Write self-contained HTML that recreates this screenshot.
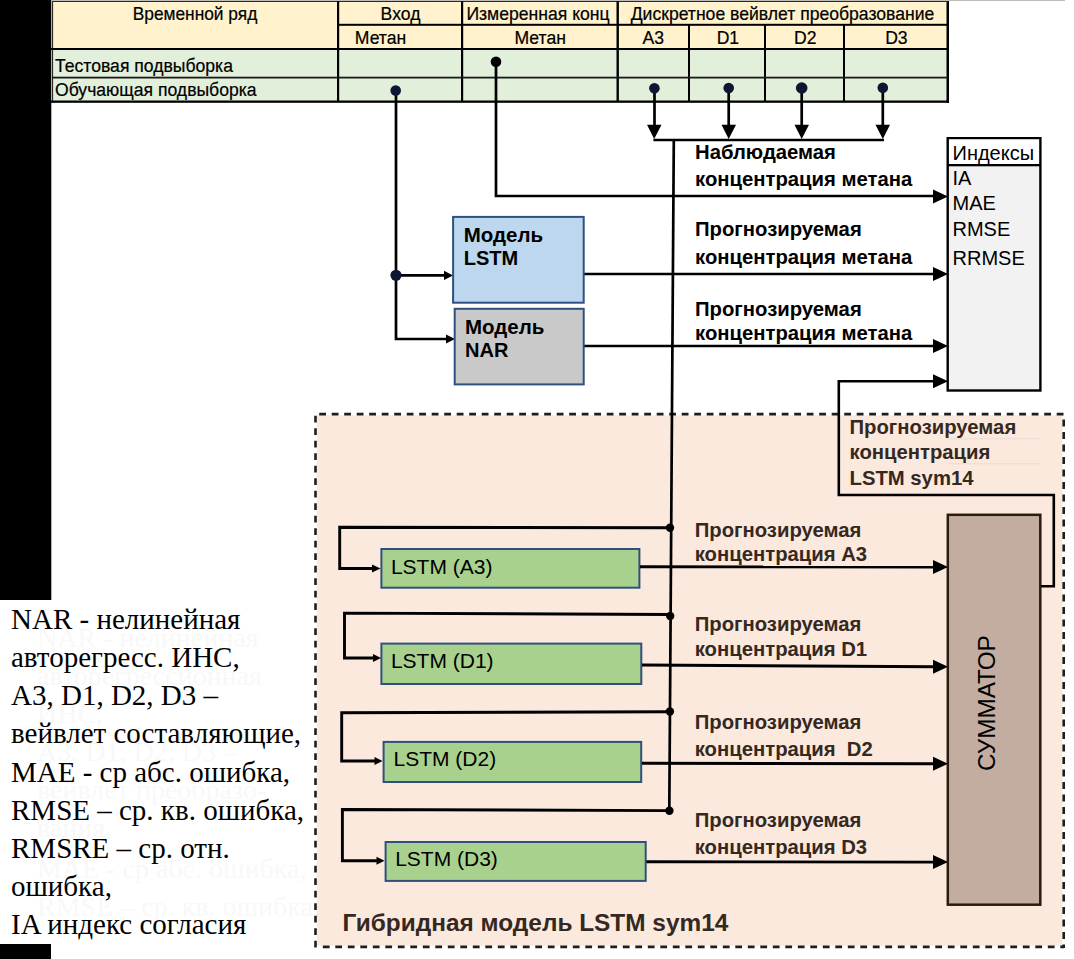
<!DOCTYPE html>
<html><head><meta charset="utf-8">
<style>
html,body{margin:0;padding:0;background:#fff;width:1074px;height:959px;overflow:hidden}
svg{display:block;position:absolute;left:0;top:0}
text{font-family:"Liberation Sans",sans-serif}
.t{font-size:17.6px;fill:#000;stroke:#000;stroke-width:0.2px}
.b{font-size:20.3px;font-weight:bold;fill:#000}
.br{font-size:20.3px;font-weight:bold;fill:#35281f}
.s{font-family:"Liberation Serif",serif;font-size:29px;fill:#000}
.sg text{font-family:"Liberation Serif",serif;font-size:28px;fill:#000;opacity:.025}
</style></head><body>
<svg width="1074" height="959" viewBox="0 0 1074 959">
<!-- black columns -->
<rect x="0" y="0" width="51" height="600" fill="#000"/>
<rect x="0" y="944" width="51" height="15" fill="#000"/>
<!-- top faint line -->
<rect x="51" y="0" width="1014" height="1" fill="#bdbdbd"/>
<rect x="51" y="0" width="1" height="600" fill="#b0b0a8"/>

<!-- TABLE -->
<rect x="52" y="1" width="896" height="48" fill="#fff2cc"/>
<rect x="52" y="49" width="896" height="53" fill="#e2efda"/>
<g fill="#000">
  <rect x="52" y="1" width="1.1" height="101.5" fill="#2a2a22"/>
  <rect x="946.5" y="1" width="2.5" height="102"/>
  <rect x="52" y="1" width="896" height="1" fill="#2a2a22"/>
  <rect x="337" y="1" width="2.2" height="101"/>
  <rect x="461" y="1" width="2.2" height="101"/>
  <rect x="616.5" y="1" width="2.4" height="101"/>
  <rect x="688" y="24" width="2" height="78"/>
  <rect x="764" y="24" width="2" height="78"/>
  <rect x="843" y="24" width="2" height="78"/>
  <rect x="338" y="23.8" width="610" height="2"/>
  <rect x="51" y="48" width="897" height="2"/>
  <rect x="52" y="76.7" width="896" height="1.8" fill="#1a1a1a"/>
  <rect x="51" y="100.5" width="897" height="2.3"/>
</g>
<text class="t" transform="translate(195,20) scale(0.985,1.05)" text-anchor="middle">Временной ряд</text>
<text class="t" transform="translate(400.5,20) scale(1,1.05)" text-anchor="middle">Вход</text>
<text class="t" transform="translate(380.5,43.5) scale(1,1.05)" text-anchor="middle">Метан</text>
<text class="t" transform="translate(538,19.5) scale(1,1.05)" text-anchor="middle">Измеренная конц</text>
<text class="t" transform="translate(540.2,43.5) scale(1,1.05)" text-anchor="middle">Метан</text>
<text class="t" transform="translate(782.5,20) scale(1,1.05)" text-anchor="middle">Дискретное вейвлет преобразование</text>
<text class="t" transform="translate(653.2,43.5) scale(1,1.05)" text-anchor="middle">A3</text>
<text class="t" transform="translate(727.9,43.5) scale(1,1.05)" text-anchor="middle">D1</text>
<text class="t" transform="translate(805.2,43.5) scale(1,1.05)" text-anchor="middle">D2</text>
<text class="t" transform="translate(896.4,43.5) scale(1,1.05)" text-anchor="middle">D3</text>
<text class="t" transform="translate(55,72) scale(1,1.05)">Тестовая подвыборка</text>
<text class="t" transform="translate(55,95.5) scale(1,1.05)">Обучающая подвыборка</text>

<!-- dashed hybrid region -->
<rect x="316.8" y="415.3" width="745.7" height="530.4" fill="#fce9dd"/>
<g stroke="#1e1e1e" stroke-width="2.6" fill="none" stroke-dasharray="6.8 5.7">
<line x1="319.2" y1="414.1" x2="1064" y2="414.1"/>
<line x1="1063.7" y1="419.6" x2="1063.7" y2="948"/>
<line x1="322.8" y1="946.9" x2="1064" y2="946.9"/>
<line x1="315.5" y1="415.8" x2="315.5" y2="948"/>
</g>
<rect x="947.5" y="438.3" width="93" height="1" fill="#e8dcd2"/>
<rect x="947.5" y="463.3" width="93" height="1" fill="#e8dcd2"/>
<!-- summator -->
<rect x="947.8" y="514.8" width="92.5" height="389.9" fill="#c3ada0" stroke="#2b1b10" stroke-width="2.5"/>
<text x="0" y="0" transform="translate(994.6,771) rotate(-90)" style="font-size:24.3px" fill="#000">СУММАТОР</text>
<!-- LSTM component boxes -->
<g fill="#a9d18e" stroke="#2f507c" stroke-width="2">
<rect x="381.4" y="549" width="258" height="38.7"/>
<rect x="381.4" y="643.6" width="259.9" height="40.4"/>
<rect x="383.6" y="741.9" width="257.6" height="40.1"/>
<rect x="385.6" y="842" width="260.1" height="38.9"/>
</g>
<g style="font-size:21px" fill="#000">
<text x="390.9" y="574">LSTM (A3)</text>
<text x="390.9" y="668">LSTM (D1)</text>
<text x="393.5" y="766.4">LSTM (D2)</text>
<text x="395.2" y="866.2">LSTM (D3)</text>
</g>
<text class="br" x="342.6" y="930.5" style="font-size:24.4px">Гибридная модель LSTM sym14</text>
<text class="br" x="849.5" y="433.8">Прогнозируемая</text>
<text class="br" x="849.5" y="459.3">концентрация</text>
<text class="br" x="849.5" y="485">LSTM sym14</text>
<text class="br" x="694.7" y="537.3">Прогнозируемая</text>
<text class="br" x="694.7" y="561.2">концентрация A3</text>
<text class="br" x="694.7" y="630.8">Прогнозируемая</text>
<text class="br" x="694.7" y="655.9">концентрация D1</text>
<text class="br" x="694.7" y="729">Прогнозируемая</text>
<text class="br" x="694.7" y="756" xml:space="preserve">концентрация  D2</text>
<text class="br" x="694.7" y="827.4">Прогнозируемая</text>
<text class="br" x="694.7" y="854.4">концентрация D3</text>

<!-- faint ghost text -->
<g class="sg">
<text x="37" y="647">NAR - нелинейная</text>
<text x="37" y="685">авторегрессионная</text>
<text x="37" y="723">ИНС,</text>
<text x="37" y="761">A3, D1, D2, D3 –</text>
<text x="37" y="799">вейвлет преобразо-</text>
<text x="37" y="837">вания,</text>
<text x="37" y="878">MAE - ср абс. ошибка,</text>
<text x="37" y="916">RMSE – ср. кв. ошибка,</text>
</g>
<!-- notes -->
<g class="s">
<text class="s" x="11" y="629">NAR - нелинейная</text>
<text class="s" x="11" y="667">авторегресс. ИНС,</text>
<text class="s" x="11" y="705">A3, D1, D2, D3 –</text>
<text class="s" x="11" y="743">вейвлет составляющие,</text>
<text class="s" x="11" y="782">MAE - ср абс. ошибка,</text>
<text class="s" x="11" y="819.6">RMSE – ср. кв. ошибка,</text>
<text class="s" x="11" y="858">RMSRE – ср. отн.</text>
<text class="s" x="11" y="895.6">ошибка,</text>
<text class="s" x="11" y="934.3">IA индекс согласия</text>
</g>

<!-- lines -->
<g stroke="#000" stroke-width="2.7" fill="none">
  <!-- Vhod -->
  <polyline points="396,90 396,339 447,339"/>
  <line x1="396" y1="275.4" x2="445" y2="275.4"/>
  <!-- Izmer -->
  <polyline points="496,62 496,196 935,196"/>
  <!-- wavelet arrows -->
  <line x1="654.5" y1="88" x2="654.5" y2="126"/>
  <line x1="728.7" y1="88" x2="728.7" y2="126"/>
  <line x1="801.7" y1="88" x2="801.7" y2="126"/>
  <line x1="882.8" y1="88" x2="882.8" y2="126"/>
  <line x1="653.4" y1="140" x2="884" y2="140"/>
  <line x1="673.8" y1="140" x2="669.3" y2="810.6"/>
  <!-- model outputs -->
  <line x1="584" y1="274" x2="935" y2="274"/>
  <line x1="584" y1="346" x2="935" y2="346"/>
</g>
<g stroke="#000" stroke-width="2.9" fill="none">
  <!-- feedback from summator -->
  <polyline points="671.3,527.7 339.7,527.3 339.7,568.5 373,568.5"/>
  <polyline points="670.6,614.5 344.5,613.1 344.5,658 374,658"/>
  <polyline points="669.9,711.8 341.7,712.7 341.7,761 375.5,761"/>
  <polyline points="669.3,810.6 342.4,809.5 342.4,860.7 377.5,860.7"/>
  <line x1="640" y1="566.8" x2="935" y2="567"/>
  <line x1="642" y1="665" x2="935" y2="666.7"/>
  <line x1="642" y1="763.3" x2="935" y2="763.8"/>
  <line x1="646.4" y1="861.7" x2="935" y2="862.1"/>
</g>
<g stroke="#000" stroke-width="2.6" fill="none">
  <polyline points="1041,586.3 1053.8,586.3 1053.8,495 838.8,495 838.8,381.3 935,381.3"/>
</g>
<g fill="#000">
  <!-- dots in table -->
  <circle cx="395.7" cy="90.6" r="5.3" fill="#0b1733"/>
  <circle cx="496" cy="61.7" r="5.3"/>
  <circle cx="654.4" cy="88.3" r="5.3" fill="#0b1733"/>
  <circle cx="728.7" cy="88" r="5.3" fill="#0b1733"/>
  <circle cx="801.7" cy="88" r="5.8" fill="#0b1733"/>
  <circle cx="882.8" cy="87.8" r="5.3" fill="#0b1733"/>
  <circle cx="396" cy="275.3" r="5.6" fill="#0b1733"/>
  <!-- down arrows -->
  <polygon points="647,124.8 661.5,124.8 654.2,139"/>
  <polygon points="721.5,124.8 736,124.8 728.7,139"/>
  <polygon points="794.5,124.8 809,124.8 801.7,139"/>
  <polygon points="875.5,124.8 890,124.8 882.8,139"/>
  <!-- small right arrows -->
  <polygon points="444,270.8 453,275.4 444,280"/>
  <polygon points="446,334.5 455,339 446,343.5"/>
  <!-- big right arrows into Indeksy -->
  <polygon points="933,560 948,567 933,574"/>
  <polygon points="933,659.7 948,666.7 933,673.7"/>
  <polygon points="933,756.8 948,763.8 933,770.8"/>
  <polygon points="933,855.1 948,862.1 933,869.1"/>
  <polygon points="372,564.5 380.5,568.5 372,572.5"/>
  <polygon points="373,654 381,658 373,662"/>
  <polygon points="374.5,757 382.5,761 374.5,765"/>
  <polygon points="376.5,856.7 384.5,860.7 376.5,864.7"/>
  <circle cx="670" cy="527.7" r="4.2"/>
  <circle cx="670.2" cy="616" r="4.2"/>
  <circle cx="669.9" cy="711.5" r="4.2"/>
  <circle cx="669.4" cy="810.7" r="4.2"/>
  <polygon points="933,189.5 948,196.5 933,203.5"/>
  <polygon points="933,267 948,274 933,281"/>
  <polygon points="933,339 948,346 933,353"/>
  <polygon points="933,374.3 948,381.3 933,388.3"/>
</g>

<!-- Indeksy box -->
<rect x="947.7" y="138.2" width="92.7" height="252.3" fill="#f2f2f2" stroke="#000" stroke-width="2.4"/>
<rect x="949" y="139.5" width="90" height="25" fill="#fff"/>
<rect x="947" y="164" width="94" height="2.3" fill="#000"/>
<text x="952.5" y="159.6" style="font-size:20px">Индексы</text>
<text x="952.5" y="185" style="font-size:20px">IA</text>
<text x="952.5" y="210" style="font-size:20px">MAE</text>
<text x="952.5" y="235.7" style="font-size:20px">RMSE</text>
<text x="952.5" y="264.7" style="font-size:20px">RRMSE</text>

<!-- LSTM / NAR model boxes -->
<rect x="453.1" y="216.9" width="130.6" height="85.8" fill="#bdd7ee" stroke="#2f5180" stroke-width="2"/>
<rect x="454.7" y="308.8" width="129" height="75.6" fill="#c9c9c9" stroke="#2f5180" stroke-width="2"/>
<text class="b" x="463.7" y="241.5" style="font-size:20.5px">Модель</text>
<text class="b" x="463.7" y="265.4" style="font-size:20px">LSTM</text>
<text class="b" x="465" y="333.7" style="font-size:20.5px">Модель</text>
<text class="b" x="465" y="357.3" style="font-size:20px">NAR</text>

<!-- labels top -->
<text class="b" x="695" y="159.4">Наблюдаемая</text>
<text class="b" x="695" y="186">концентрация метана</text>
<text class="b" x="695" y="236.3">Прогнозируемая</text>
<text class="b" x="695" y="264.2">концентрация метана</text>
<text class="b" x="695" y="316">Прогнозируемая</text>
<text class="b" x="695" y="339.7">концентрация метана</text>
</svg>
</body></html>
